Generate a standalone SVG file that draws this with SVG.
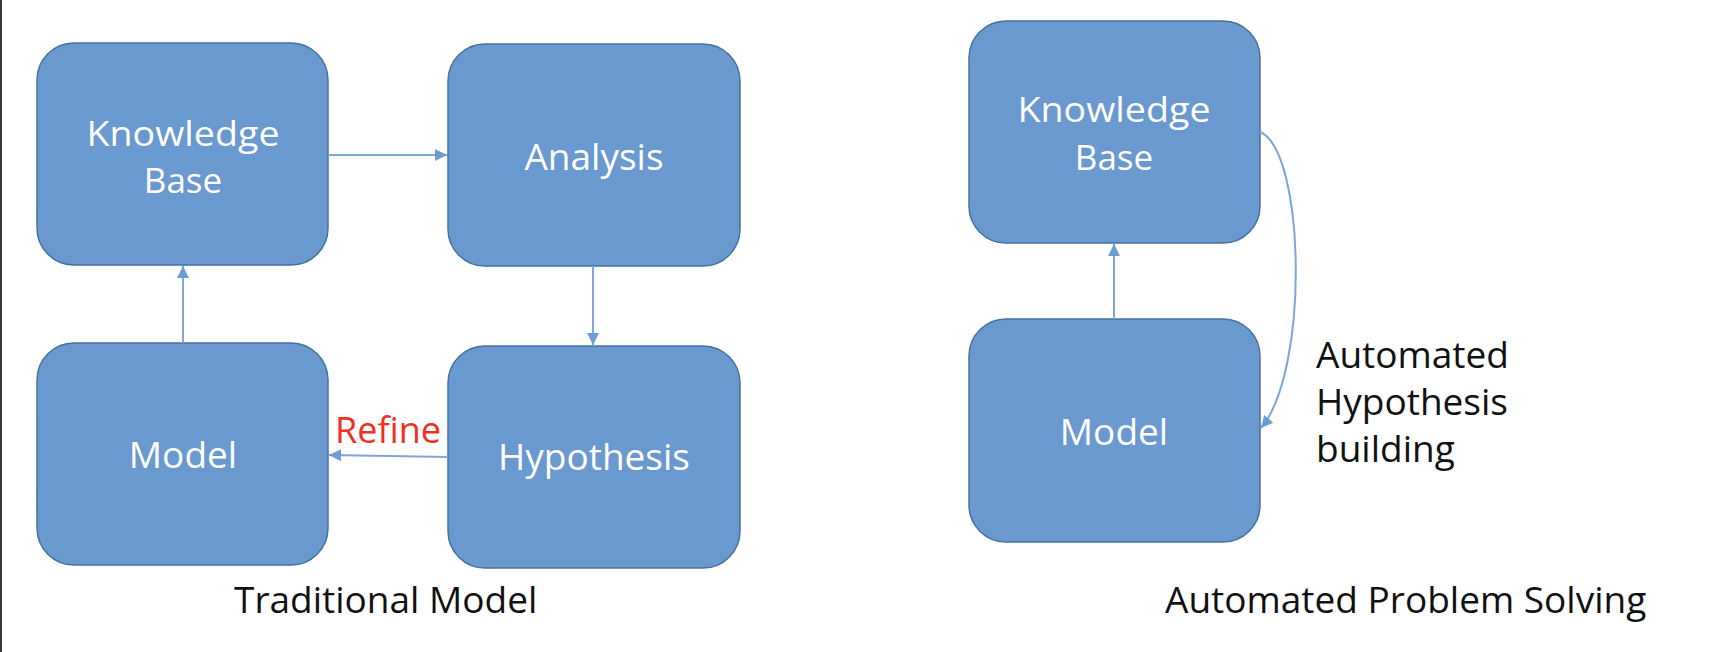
<svg xmlns="http://www.w3.org/2000/svg" width="1728" height="652" viewBox="0 0 1728 652">
<style>
.box{fill:#6999CF;stroke:#44729F;stroke-width:1.5}
.lbl{font-family:"Open Sans","Liberation Sans",sans-serif;font-size:37px;fill:#ffffff;text-anchor:middle}
.lbl2{font-family:"Open Sans","Liberation Sans",sans-serif;font-size:35px;fill:#ffffff;text-anchor:middle}
.cap{font-family:"Open Sans","Liberation Sans",sans-serif;font-size:37px;fill:#111111}
.conn{fill:none;stroke:#7EA6D9;stroke-width:2}
</style>
<defs>
<marker id="arr" viewBox="0 0 10 10" refX="10" refY="5" markerWidth="6" markerHeight="6" markerUnits="strokeWidth" orient="auto">
<path d="M0,0 L10,5 L0,10 z" fill="#6E9BD6"/>
</marker>
</defs>
<rect x="0" y="0" width="1728" height="652" fill="#ffffff"/>
<line x1="1" y1="0" x2="1" y2="652" stroke="#3a3a3a" stroke-width="2"/>
<g id="kb1"><rect class="box" x="37" y="43" width="291" height="222" rx="37"/><text class="lbl2" x="183" y="146" textLength="193" lengthAdjust="spacingAndGlyphs">Knowledge</text><text class="lbl2" x="183" y="193">Base</text></g>
<g id="analysis"><rect class="box" x="448" y="44" width="292" height="222" rx="37"/><text class="lbl" x="594" y="170">Analysis</text></g>
<g id="model1"><rect class="box" x="37" y="343" width="291" height="222" rx="37"/><text class="lbl" x="183" y="468">Model</text></g>
<g id="hypothesis"><rect class="box" x="448" y="346" width="292" height="222" rx="37"/><text class="lbl" x="594" y="470">Hypothesis</text></g>
<g id="kb2"><rect class="box" x="969" y="21" width="291" height="222" rx="37"/><text class="lbl2" x="1114" y="122" textLength="193" lengthAdjust="spacingAndGlyphs">Knowledge</text><text class="lbl2" x="1114" y="170">Base</text></g>
<g id="model2"><rect class="box" x="969" y="319" width="291" height="223" rx="37"/><text class="lbl" x="1114" y="445">Model</text></g>
<g id="connectors">
<line class="conn" x1="328" y1="155" x2="447" y2="155" marker-end="url(#arr)"/>
<line class="conn" x1="593" y1="266" x2="593" y2="345" marker-end="url(#arr)"/>
<line class="conn" x1="448" y1="457" x2="329" y2="455" marker-end="url(#arr)"/>
<line class="conn" x1="183" y1="343" x2="183" y2="266" marker-end="url(#arr)"/>
<line class="conn" x1="1114" y1="319" x2="1114" y2="244" marker-end="url(#arr)"/>
<path class="conn" d="M1260,132 C1305,150 1310,370 1261,428" marker-end="url(#arr)"/>
</g>
<text x="335" y="443" font-family="Open Sans, Liberation Sans, sans-serif" font-size="36" fill="#EE3124">Refine</text>
<text class="cap" x="234" y="613">Traditional Model</text>
<text class="cap" x="1316" y="368">Automated</text>
<text class="cap" x="1316" y="415">Hypothesis</text>
<text class="cap" x="1316" y="462">building</text>
<text class="cap" x="1165" y="613">Automated Problem Solving</text>
</svg>
